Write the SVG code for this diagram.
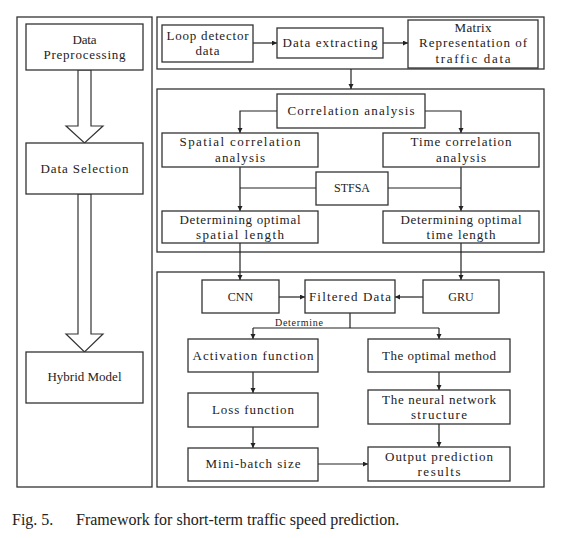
<svg xmlns="http://www.w3.org/2000/svg" width="563" height="538" viewBox="0 0 563 538">
<style>
.panel{fill:none;stroke:#333;stroke-width:1.3}
.box{fill:#fff;stroke:#333;stroke-width:1.3}
.t{font-family:"Liberation Serif","Times New Roman",serif;font-size:13px;fill:#222;text-anchor:middle}
.u{font-family:"Liberation Serif","Times New Roman",serif;font-size:12px;fill:#222;text-anchor:middle}
.s{font-family:"Liberation Serif","Times New Roman",serif;font-size:10px;fill:#222;text-anchor:middle}
.c{fill:none;stroke:#222;stroke-width:1.2}
.hollow{fill:#fff;stroke:#333;stroke-width:1.2}
.cap{font-family:"Liberation Serif",serif;font-size:16px;fill:#222}
</style>
<defs>
<marker id="ah" markerUnits="userSpaceOnUse" markerWidth="6" markerHeight="6" refX="5" refY="2.5" orient="auto">
<path d="M0,0 L5,2.5 L0,5 z" fill="#222"/>
</marker>
</defs>
<rect width="563" height="538" fill="#fff"/>

<g id="panels">
<rect class="panel" x="17" y="17" width="135" height="470"/>
<rect class="panel" x="157" y="17" width="387" height="52"/>
<rect class="panel" x="157" y="89" width="387" height="163"/>
<rect class="panel" x="157" y="272" width="387" height="215"/>
</g>

<g id="connectors">
<polygon class="hollow" points="78,70 91,70 91,126 103,126 84.5,143 66,126 78,126"/>
<polygon class="hollow" points="78,194 91,194 91,334 103,334 84.5,352 66,334 78,334"/>
<path class="c" d="M253,43 H277" marker-end="url(#ah)"/>
<path class="c" d="M383,43 H408" marker-end="url(#ah)"/>
<path class="c" d="M351,69 V89" marker-end="url(#ah)"/>
<path class="c" d="M277,111 H240 V133" marker-end="url(#ah)"/>
<path class="c" d="M425,111 H461 V133" marker-end="url(#ah)"/>
<path class="c" d="M240,167 V211" marker-end="url(#ah)"/>
<path class="c" d="M461,167 V211" marker-end="url(#ah)"/>
<path class="c" d="M316,188 H240"/>
<path class="c" d="M388,188 H461"/>
<path class="c" d="M240,243 V280" marker-end="url(#ah)"/>
<path class="c" d="M461,243 V280" marker-end="url(#ah)"/>
<path class="c" d="M279,297 H305" marker-end="url(#ah)"/>
<path class="c" d="M423,297 H395" marker-end="url(#ah)"/>
<path class="c" d="M350,313 V328"/>
<path class="c" d="M253,328 H439"/>
<path class="c" d="M253,328 V339" marker-end="url(#ah)"/>
<path class="c" d="M439,328 V339" marker-end="url(#ah)"/>
<path class="c" d="M253,372 V393" marker-end="url(#ah)"/>
<path class="c" d="M253,427 V448" marker-end="url(#ah)"/>
<path class="c" d="M439,372 V390" marker-end="url(#ah)"/>
<path class="c" d="M439,424 V447" marker-end="url(#ah)"/>
<path class="c" d="M318,464 H368" marker-end="url(#ah)"/>
<text class="s" x="299" y="326" textLength="48" lengthAdjust="spacing">Determine</text>
</g>

<g id="data-preprocessing">
<rect class="box" x="26" y="24" width="117" height="46"/>
<text class="t" x="84.5" y="44" textLength="24" lengthAdjust="spacing">Data</text>
<text class="t" x="84.5" y="59" textLength="82" lengthAdjust="spacing">Preprocessing</text>
</g>
<g id="data-selection">
<rect class="box" x="26" y="143" width="117" height="51"/>
<text class="t" x="84.5" y="173" textLength="88" lengthAdjust="spacing">Data Selection</text>
</g>
<g id="hybrid-model">
<rect class="box" x="26" y="352" width="117" height="51"/>
<text class="t" x="84.5" y="381">Hybrid Model</text>
</g>

<g id="loop-detector">
<rect class="box" x="162" y="25" width="91" height="37"/>
<text class="t" x="207.5" y="40" textLength="82" lengthAdjust="spacing">Loop detector</text>
<text class="t" x="207.5" y="55" textLength="24" lengthAdjust="spacing">data</text>
</g>
<g id="data-extracting">
<rect class="box" x="277" y="28" width="106" height="30"/>
<text class="t" x="330" y="47" textLength="95" lengthAdjust="spacing">Data extracting</text>
</g>
<g id="matrix">
<rect class="box" x="408" y="20" width="130" height="48" stroke-width="1.8"/>
<text class="t" x="473" y="32" textLength="37" lengthAdjust="spacing">Matrix</text>
<text class="t" x="473" y="47" textLength="108" lengthAdjust="spacing">Representation of</text>
<text class="t" x="473" y="63" textLength="75" lengthAdjust="spacing">traffic data</text>
</g>

<g id="correlation">
<rect class="box" x="277" y="94" width="148" height="34"/>
<text class="t" x="351" y="115" textLength="127" lengthAdjust="spacing">Correlation analysis</text>
</g>
<g id="spatial-corr">
<rect class="box" x="162" y="133" width="156" height="34"/>
<text class="t" x="240" y="146" textLength="121" lengthAdjust="spacing">Spatial correlation</text>
<text class="t" x="240" y="162" textLength="50" lengthAdjust="spacing">analysis</text>
</g>
<g id="time-corr">
<rect class="box" x="383" y="133" width="156" height="34"/>
<text class="t" x="461" y="146" textLength="101" lengthAdjust="spacing">Time correlation</text>
<text class="t" x="461" y="162" textLength="50" lengthAdjust="spacing">analysis</text>
</g>
<g id="stfsa">
<rect class="box" x="316" y="172" width="72" height="33"/>
<text class="u" x="352" y="192">STFSA</text>
</g>
<g id="det-spatial">
<rect class="box" x="162" y="211" width="156" height="32"/>
<text class="t" x="240" y="224" textLength="121" lengthAdjust="spacing">Determining optimal</text>
<text class="t" x="240" y="239" textLength="88" lengthAdjust="spacing">spatial length</text>
</g>
<g id="det-time">
<rect class="box" x="383" y="211" width="156" height="32"/>
<text class="t" x="461" y="224" textLength="121" lengthAdjust="spacing">Determining optimal</text>
<text class="t" x="461" y="239" textLength="69" lengthAdjust="spacing">time length</text>
</g>

<g id="cnn">
<rect class="box" x="202" y="280" width="77" height="33"/>
<text class="u" x="240.5" y="301">CNN</text>
</g>
<g id="filtered">
<rect class="box" x="305" y="280" width="90" height="33"/>
<text class="t" x="350" y="301" textLength="82" lengthAdjust="spacing">Filtered Data</text>
</g>
<g id="gru">
<rect class="box" x="423" y="280" width="76" height="33"/>
<text class="u" x="461" y="301">GRU</text>
</g>
<g id="activation">
<rect class="box" x="188" y="339" width="130" height="33"/>
<text class="t" x="253" y="359.5" textLength="121" lengthAdjust="spacing">Activation function</text>
</g>
<g id="optimal-method">
<rect class="box" x="368" y="339" width="142" height="33"/>
<text class="t" x="439" y="359.5" textLength="114" lengthAdjust="spacing">The optimal method</text>
</g>
<g id="loss">
<rect class="box" x="188" y="393" width="130" height="34"/>
<text class="t" x="253" y="414" textLength="82" lengthAdjust="spacing">Loss function</text>
</g>
<g id="neural">
<rect class="box" x="368" y="390" width="142" height="34"/>
<text class="t" x="439" y="404" textLength="114" lengthAdjust="spacing">The neural network</text>
<text class="t" x="439" y="419" textLength="56" lengthAdjust="spacing">structure</text>
</g>
<g id="minibatch">
<rect class="box" x="188" y="448" width="130" height="33"/>
<text class="t" x="253" y="468" textLength="95" lengthAdjust="spacing">Mini-batch size</text>
</g>
<g id="output">
<rect class="box" x="368" y="447" width="142" height="34"/>
<text class="t" x="439" y="461" textLength="108" lengthAdjust="spacing">Output prediction</text>
<text class="t" x="439" y="476" textLength="43" lengthAdjust="spacing">results</text>
</g>

<g id="caption">
<text class="cap" x="12" y="525">Fig. 5.</text>
<text class="cap" x="76" y="525">Framework for short-term traffic speed prediction.</text>
</g>
</svg>
